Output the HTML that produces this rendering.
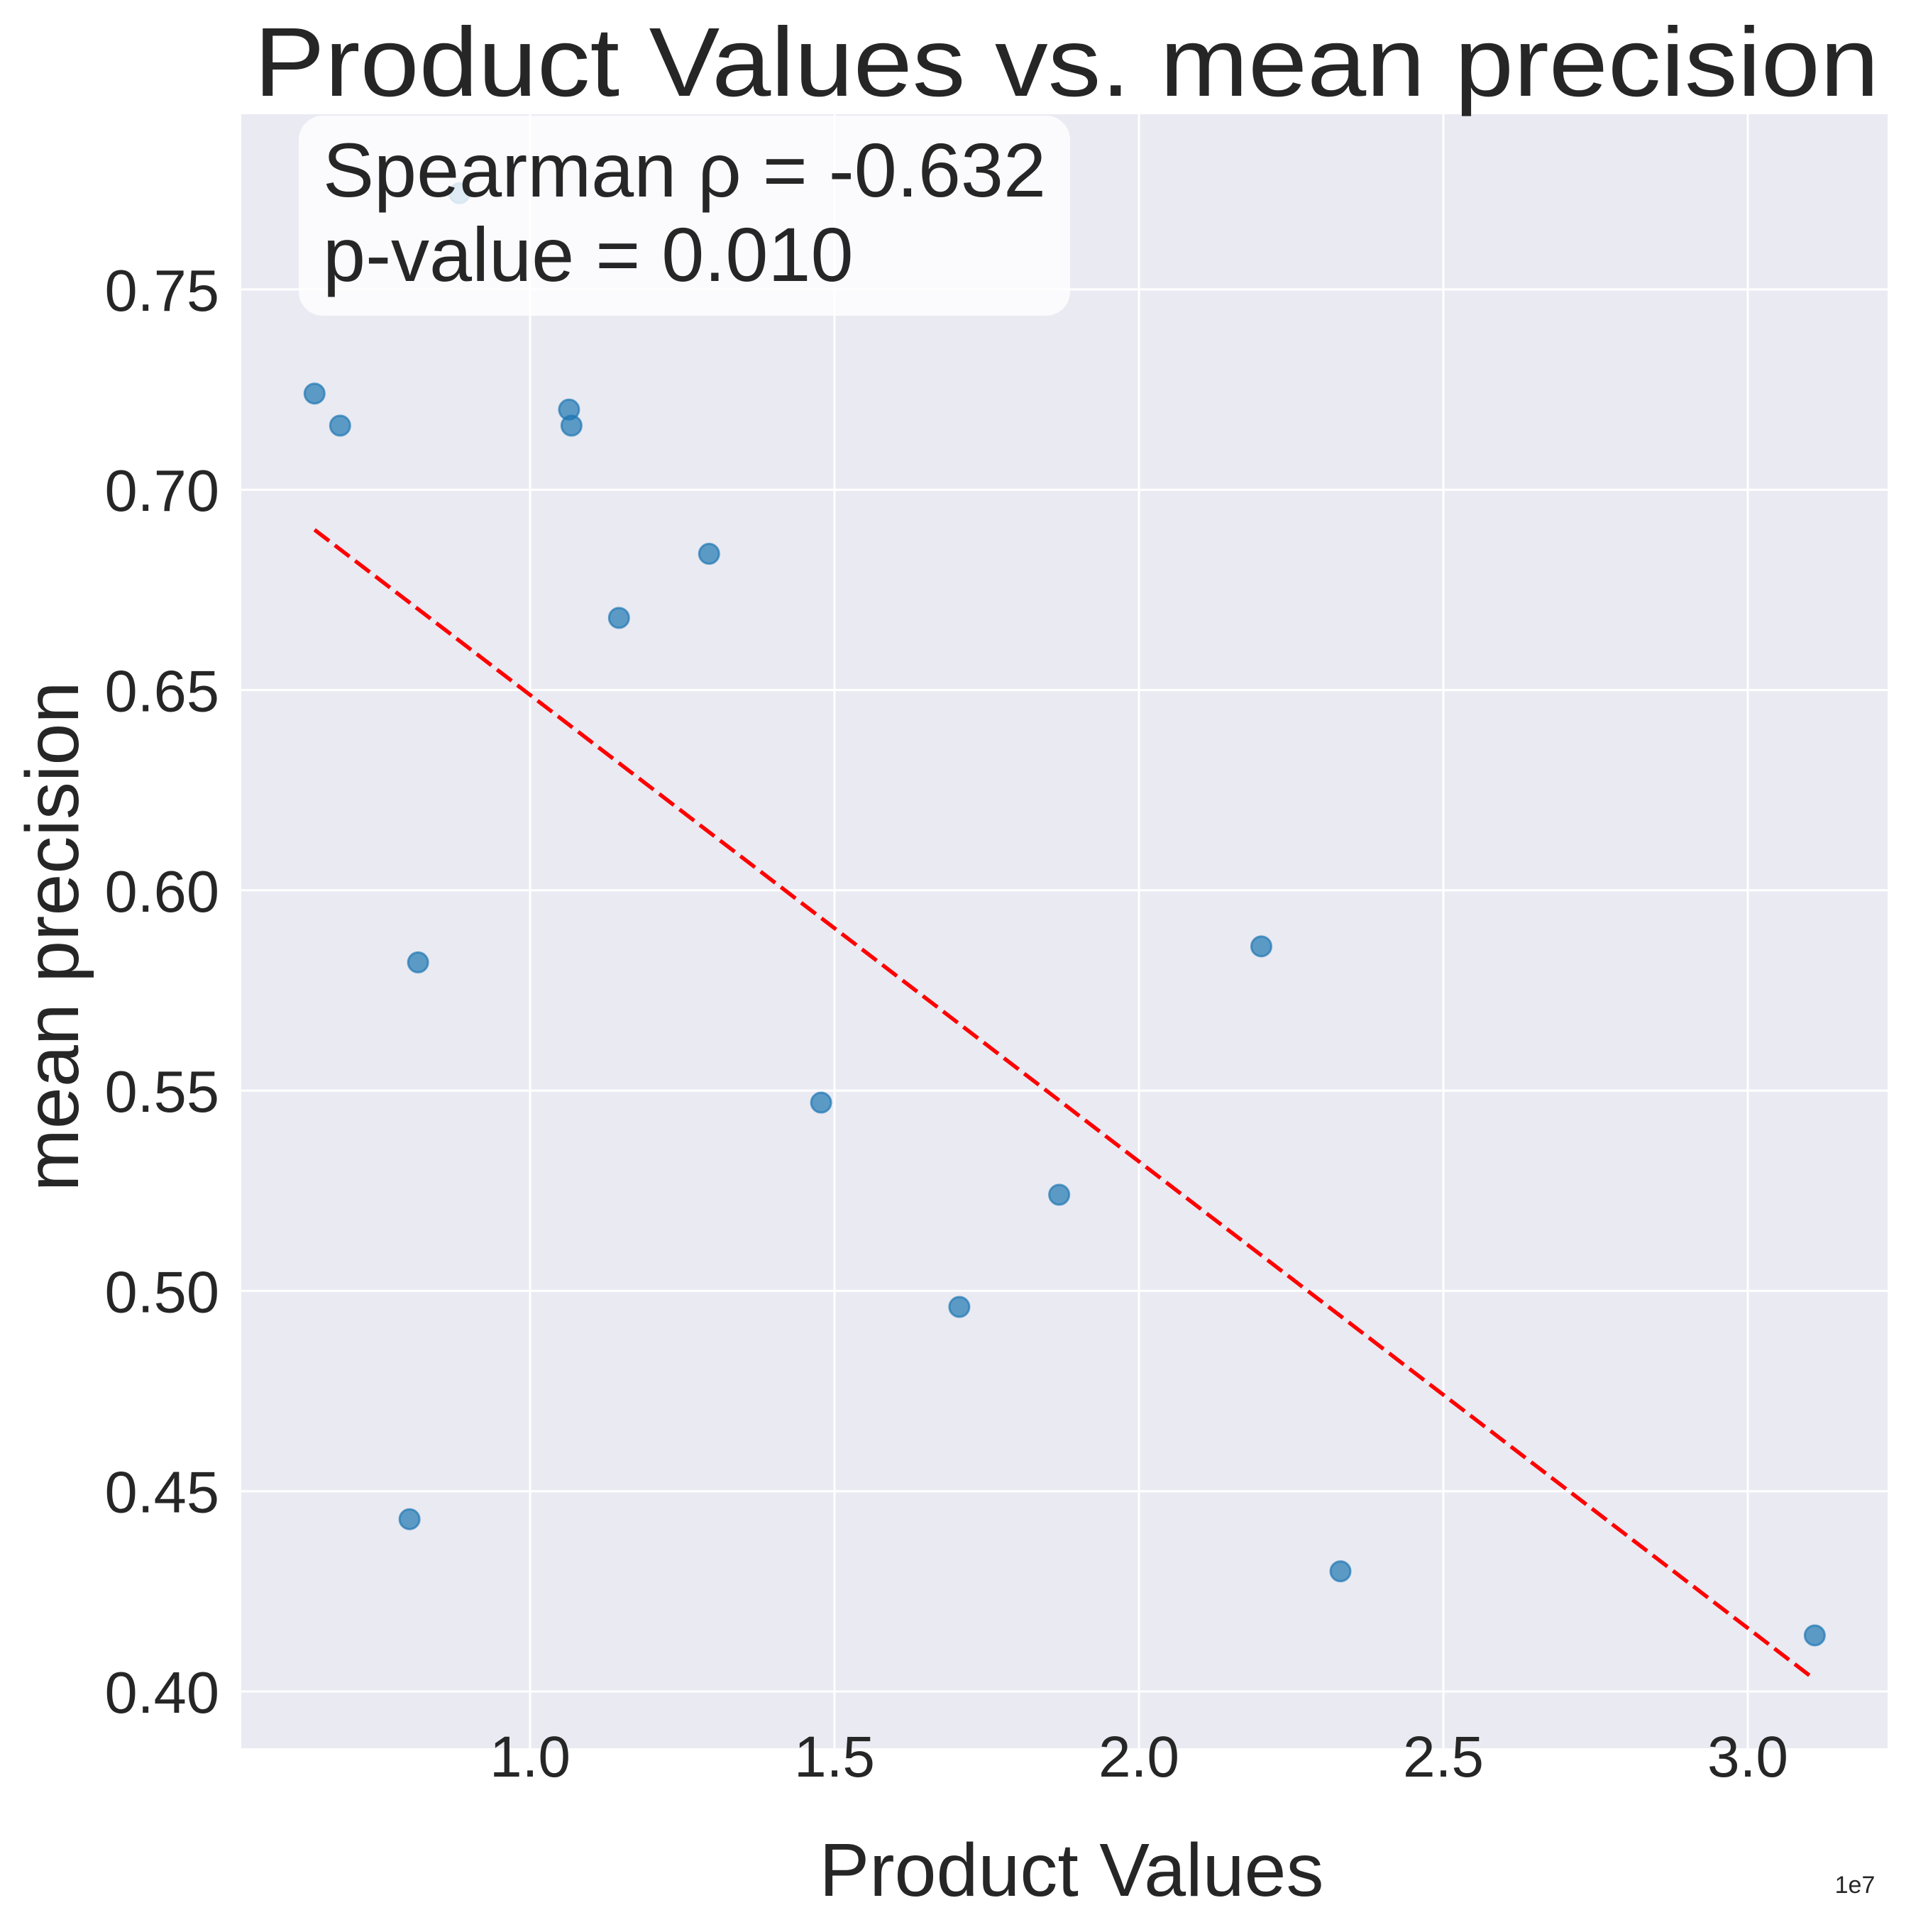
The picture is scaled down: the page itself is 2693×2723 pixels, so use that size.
<!DOCTYPE html>
<html><head><meta charset="utf-8"><style>html,body{margin:0;padding:0;background:#fff}svg{display:block}text{font-family:"Liberation Sans",Arial,sans-serif;fill:#262626}</style></head>
<body>
<svg id="chart" width="2693" height="2723" viewBox="0 0 2693 2723" xmlns="http://www.w3.org/2000/svg">
<rect x="340" y="161" width="2320" height="2303" fill="#eaeaf2"/>
<g id="grid"></g>
<g id="ticks"></g>
<g id="trend"></g>
<g id="points"></g>
<rect x="421" y="163" width="1087" height="282" rx="34" fill="#ffffff" fill-opacity="0.8"/>
<text x="455" y="277" font-size="108">Spearman ρ = -0.632</text>
<text x="455" y="396" font-size="108">p-value = 0.010</text>
<text x="1503" y="135" font-size="138" text-anchor="middle" textLength="2290" lengthAdjust="spacingAndGlyphs">Product Values vs. mean precision</text>
<text x="1510" y="2672" font-size="106" text-anchor="middle">Product Values</text>
<text transform="translate(110,1320) rotate(-90)" font-size="106" text-anchor="middle">mean precision</text>
<text x="2614" y="2668" font-size="34" text-anchor="middle">1e7</text>
</svg>
<script>
const xVals=[0.646,0.688,0.816,0.802,1.064,1.068,1.146,1.294,1.478,1.705,1.869,2.201,2.331,3.110,0.884];
const yVals=[0.724,0.716,0.582,0.443,0.720,0.716,0.668,0.684,0.547,0.496,0.524,0.586,0.430,0.414,0.774];
const xTicks=[1.0,1.5,2.0,2.5,3.0];
const xTickLabels=["1.0","1.5","2.0","2.5","3.0"];
const yTicks=[0.40,0.45,0.50,0.55,0.60,0.65,0.70,0.75];
const yTickLabels=["0.40","0.45","0.50","0.55","0.60","0.65","0.70","0.75"];
const trendX=[0.646,3.110];
const trendY=[0.690,0.403];
const NS="http://www.w3.org/2000/svg";
function xs(v){return 747+(v-1.0)*858;}
function ys(v){return 2384-(v-0.40)*5646;}
function mk(tag,attrs,parent,txt){const e=document.createElementNS(NS,tag);for(const k in attrs)e.setAttribute(k,attrs[k]);if(txt!==undefined)e.textContent=txt;document.getElementById(parent).appendChild(e);return e;}
xTicks.forEach((t,i)=>{
 const l=mk('line',{x1:xs(t),x2:xs(t),y1:161,y2:2464,stroke:'#fff','stroke-width':3},'grid');
 
 
 const tx=mk('text',{x:xs(t),y:2504,'font-size':82,'text-anchor':'middle'},'ticks',xTickLabels[i]);
 
 
});
yTicks.forEach((t,i)=>{
 const l=mk('line',{x1:340,x2:2660,y1:ys(t),y2:ys(t),stroke:'#fff','stroke-width':3},'grid');
 
 
 const tx=mk('text',{x:309,y:ys(t)+30,'font-size':83,'text-anchor':'end'},'ticks',yTickLabels[i]);
 
 
});
const tl=mk('line',{x1:xs(trendX[0]),y1:ys(trendY[0]),x2:xs(trendX[1]),y2:ys(trendY[1]),stroke:'#ff0000','stroke-width':5.5,'stroke-dasharray':'26 10'},'trend');


xVals.forEach((x,i)=>{
 const c=mk('circle',{cx:xs(x),cy:ys(yVals[i]),r:14,fill:'#1f77b4','fill-opacity':0.7,stroke:'#1f77b4','stroke-opacity':0.7,'stroke-width':3},'points');
 
 
});
</script>
</body></html>
